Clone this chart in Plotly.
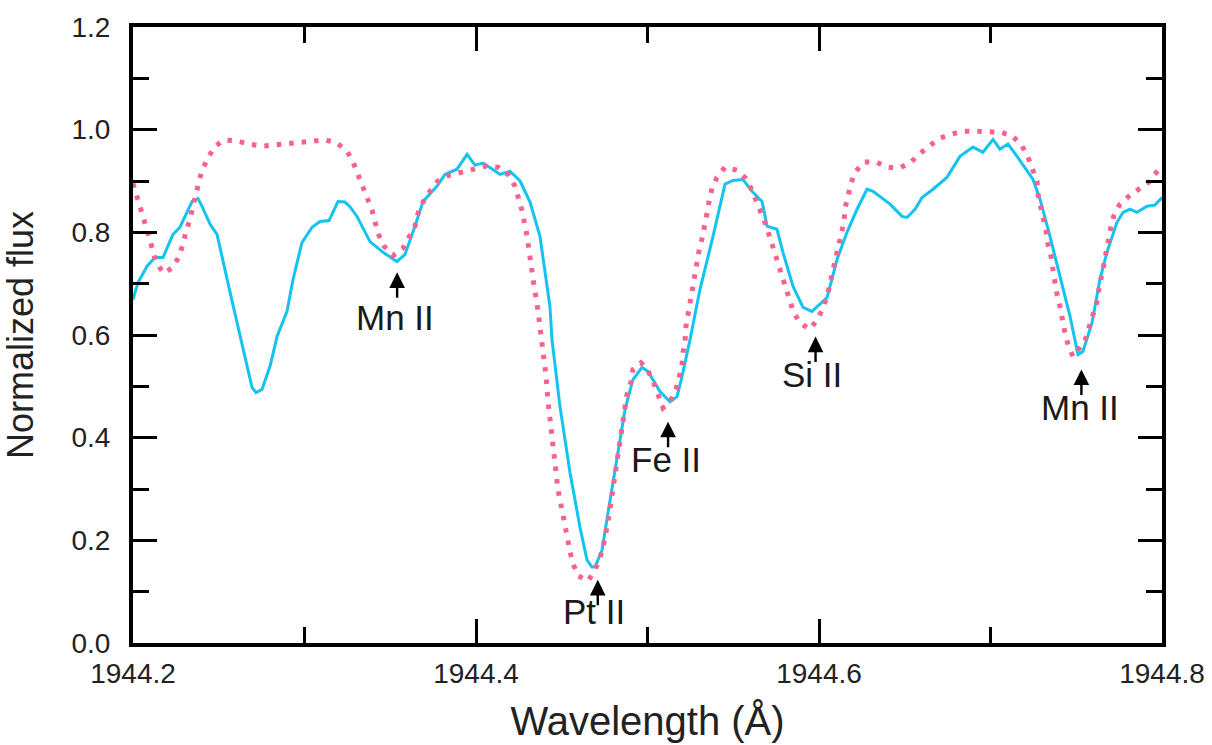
import plotly.graph_objects as go

# Observed spectrum (cyan solid line)
obs_wavelength = [
    1944.2000, 1944.2029, 1944.2082, 1944.2128, 1944.2175, 1944.2233, 1944.2274, 1944.2344,
    1944.2379, 1944.2402, 1944.2449, 1944.2490, 1944.2566, 1944.2641, 1944.2694, 1944.2717,
    1944.2752, 1944.2799, 1944.2840, 1944.2898, 1944.2933, 1944.2985, 1944.3044, 1944.3090,
    1944.3143, 1944.3195, 1944.3236, 1944.3265, 1944.3306, 1944.3382, 1944.3458, 1944.3539,
    1944.3586, 1944.3644, 1944.3691, 1944.3773, 1944.3819, 1944.3889, 1944.3948, 1944.3994,
    1944.4041, 1944.4140, 1944.4198, 1944.4257, 1944.4315, 1944.4373, 1944.4431, 1944.4443,
    1944.4490, 1944.4548, 1944.4606, 1944.4647, 1944.4676, 1944.4694, 1944.4735, 1944.4770,
    1944.4822, 1944.4869, 1944.4915, 1944.4968, 1944.5003, 1944.5073, 1944.5131, 1944.5172,
    1944.5201, 1944.5248, 1944.5306, 1944.5382, 1944.5452, 1944.5499, 1944.5557, 1944.5609,
    1944.5668, 1944.5697, 1944.5755, 1944.5790, 1944.5848, 1944.5907, 1944.5959, 1944.6006,
    1944.6047, 1944.6105, 1944.6163, 1944.6222, 1944.6280, 1944.6315, 1944.6414, 1944.6484,
    1944.6513, 1944.6560, 1944.6601, 1944.6665, 1944.6746, 1944.6822, 1944.6898, 1944.6956,
    1944.7015, 1944.7055, 1944.7102, 1944.7155, 1944.7248, 1944.7289, 1944.7347, 1944.7405,
    1944.7464, 1944.7510, 1944.7539, 1944.7592, 1944.7638, 1944.7679, 1944.7738, 1944.7773,
    1944.7813, 1944.7854, 1944.7913, 1944.7959, 1944.8000,
]
obs_flux = [
    0.669, 0.702, 0.734, 0.751, 0.751, 0.796, 0.810, 0.860,
    0.866, 0.851, 0.816, 0.796, 0.683, 0.578, 0.498, 0.488,
    0.494, 0.539, 0.597, 0.646, 0.708, 0.780, 0.810, 0.821,
    0.823, 0.860, 0.859, 0.850, 0.831, 0.782, 0.761, 0.743,
    0.757, 0.812, 0.860, 0.890, 0.913, 0.923, 0.952, 0.931,
    0.935, 0.913, 0.919, 0.900, 0.859, 0.792, 0.656, 0.591,
    0.460, 0.332, 0.226, 0.162, 0.148, 0.148, 0.181, 0.254,
    0.363, 0.455, 0.513, 0.537, 0.529, 0.490, 0.470, 0.480,
    0.519, 0.591, 0.689, 0.792, 0.894, 0.901, 0.903, 0.880,
    0.860, 0.812, 0.806, 0.761, 0.695, 0.654, 0.646, 0.660,
    0.673, 0.747, 0.800, 0.845, 0.884, 0.880, 0.855, 0.831,
    0.829, 0.845, 0.868, 0.884, 0.907, 0.948, 0.966, 0.956,
    0.981, 0.962, 0.972, 0.948, 0.903, 0.864, 0.792, 0.714,
    0.636, 0.562, 0.568, 0.624, 0.708, 0.761, 0.820, 0.839,
    0.845, 0.839, 0.851, 0.853, 0.868,
]

# Synthetic (model) spectrum (pink dotted line)
model_wavelength = [
    1944.2000, 1944.2012, 1944.2035, 1944.2058, 1944.2082, 1944.2099, 1944.2117, 1944.2140,
    1944.2181, 1944.2233, 1944.2268, 1944.2292, 1944.2309, 1944.2332, 1944.2350, 1944.2367,
    1944.2385, 1944.2402, 1944.2437, 1944.2472, 1944.2531, 1944.2606, 1944.2676, 1944.2752,
    1944.2822, 1944.2898, 1944.2968, 1944.3044, 1944.3120, 1944.3190, 1944.3248, 1944.3283,
    1944.3312, 1944.3341, 1944.3364, 1944.3394, 1944.3411, 1944.3434, 1944.3464, 1944.3516,
    1944.3574, 1944.3609, 1944.3644, 1944.3662, 1944.3691, 1944.3732, 1944.3778, 1944.3843,
    1944.3918, 1944.3988, 1944.4058, 1944.4128, 1944.4192, 1944.4227, 1944.4251, 1944.4268,
    1944.4297, 1944.4321, 1944.4338, 1944.4362, 1944.4391, 1944.4408, 1944.4420, 1944.4437,
    1944.4461, 1944.4478, 1944.4507, 1944.4531, 1944.4548, 1944.4566, 1944.4595, 1944.4653,
    1944.4694, 1944.4723, 1944.4741, 1944.4770, 1944.4793, 1944.4816, 1944.4834, 1944.4857,
    1944.4869, 1944.4880, 1944.4904, 1944.4915, 1944.4962, 1944.4997, 1944.5038, 1944.5090,
    1944.5131, 1944.5166, 1944.5184, 1944.5201, 1944.5207, 1944.5219, 1944.5224, 1944.5236,
    1944.5254, 1944.5265, 1944.5277, 1944.5289, 1944.5300, 1944.5318, 1944.5329, 1944.5347,
    1944.5359, 1944.5376, 1944.5405, 1944.5452, 1944.5522, 1944.5574, 1944.5609, 1944.5638,
    1944.5662, 1944.5691, 1944.5714, 1944.5738, 1944.5761, 1944.5784, 1944.5802, 1944.5825,
    1944.5848, 1944.5883, 1944.5942, 1944.5988, 1944.6023, 1944.6047, 1944.6064, 1944.6082,
    1944.6099, 1944.6117, 1944.6134, 1944.6146, 1944.6152, 1944.6169, 1944.6187, 1944.6210,
    1944.6262, 1944.6332, 1944.6397, 1944.6466, 1944.6531, 1944.6583, 1944.6641, 1944.6700,
    1944.6770, 1944.6840, 1944.6915, 1944.6985, 1944.7061, 1944.7131, 1944.7184, 1944.7219,
    1944.7248, 1944.7271, 1944.7277, 1944.7294, 1944.7306, 1944.7324, 1944.7335, 1944.7353,
    1944.7364, 1944.7376, 1944.7388, 1944.7405, 1944.7417, 1944.7434, 1944.7452, 1944.7481,
    1944.7551, 1944.7574, 1944.7598, 1944.7621, 1944.7633, 1944.7650, 1944.7662, 1944.7674,
    1944.7685, 1944.7703, 1944.7720, 1944.7755, 1944.7813, 1944.7878, 1944.7924, 1944.7977,
    1944.8000,
]
model_flux = [
    0.895, 0.882, 0.858, 0.833, 0.810, 0.786, 0.761, 0.738,
    0.720, 0.732, 0.753, 0.777, 0.802, 0.825, 0.851, 0.874,
    0.898, 0.921, 0.944, 0.966, 0.980, 0.978, 0.972, 0.968,
    0.970, 0.972, 0.976, 0.978, 0.980, 0.974, 0.958, 0.937,
    0.913, 0.890, 0.866, 0.843, 0.820, 0.794, 0.773, 0.755,
    0.769, 0.790, 0.812, 0.837, 0.859, 0.880, 0.900, 0.911,
    0.917, 0.921, 0.929, 0.927, 0.911, 0.890, 0.866, 0.843,
    0.794, 0.745, 0.697, 0.646, 0.572, 0.521, 0.470, 0.423,
    0.349, 0.299, 0.250, 0.201, 0.178, 0.154, 0.131, 0.121,
    0.142, 0.166, 0.187, 0.236, 0.287, 0.338, 0.386, 0.435,
    0.460, 0.484, 0.509, 0.533, 0.546, 0.535, 0.505, 0.458,
    0.470, 0.494, 0.517, 0.542, 0.566, 0.587, 0.616, 0.640,
    0.665, 0.689, 0.714, 0.739, 0.763, 0.788, 0.812, 0.837,
    0.860, 0.886, 0.907, 0.927, 0.921, 0.905, 0.882, 0.859,
    0.835, 0.814, 0.790, 0.765, 0.741, 0.718, 0.695, 0.671,
    0.648, 0.626, 0.611, 0.628, 0.652, 0.675, 0.700, 0.724,
    0.749, 0.773, 0.798, 0.821, 0.847, 0.870, 0.896, 0.917,
    0.937, 0.937, 0.927, 0.925, 0.935, 0.952, 0.968, 0.983,
    0.991, 0.997, 0.997, 0.997, 0.995, 0.987, 0.968, 0.946,
    0.923, 0.900, 0.874, 0.851, 0.825, 0.802, 0.777, 0.753,
    0.728, 0.702, 0.679, 0.656, 0.630, 0.605, 0.581, 0.558,
    0.589, 0.615, 0.640, 0.665, 0.691, 0.714, 0.739, 0.761,
    0.786, 0.812, 0.833, 0.855, 0.872, 0.886, 0.898, 0.921,
    0.927,
]

# Line identifications
line_labels = ["Mn II", "Pt II", "Fe II", "Si II", "Mn II"]
line_wavelength = [1944.354, 1944.471, 1944.512, 1944.598, 1944.753]
arrow_tip_flux = [0.722, 0.123, 0.431, 0.597, 0.533]
label_flux = [0.634, 0.062, 0.357, 0.523, 0.459]
label_wavelength = [1944.353, 1944.469, 1944.511, 1944.596, 1944.752]

x_tick_vals = [1944.2, 1944.4, 1944.6, 1944.8]
x_tick_text = ["1944.2", "1944.4", "1944.6", "1944.8"]
y_tick_vals = [0.0, 0.2, 0.4, 0.6, 0.8, 1.0, 1.2]
y_tick_text = ["0.0", "0.2", "0.4", "0.6", "0.8", "1.0", "1.2"]

FONT = "Liberation Sans, Arial, sans-serif"
CYAN = "#14C3F0"
PINK = "#F8628E"

fig = go.Figure()
fig.add_trace(go.Scatter(
    x=obs_wavelength, y=obs_flux, mode="lines",
    line=dict(color=CYAN, width=3), showlegend=False, hoverinfo="skip"))
fig.add_trace(go.Scatter(
    x=model_wavelength, y=model_flux, mode="lines",
    line=dict(color=PINK, width=5, dash="4.5px,8px"),
    showlegend=False, hoverinfo="skip"))

for lab, lw, tip, lf, lx in zip(line_labels, line_wavelength, arrow_tip_flux, label_flux, label_wavelength):
    fig.add_annotation(x=lw, y=tip, ax=0, ay=27, xref="x", yref="y",
                       showarrow=True, arrowhead=2, arrowsize=1.3, arrowwidth=2.4,
                       arrowcolor="black", text="")
    fig.add_annotation(x=lx, y=lf, xref="x", yref="y", text=lab, showarrow=False,
                       font=dict(family=FONT, size=35, color="#1a1a1a"),
                       xanchor="center", yanchor="middle")

axis_common = dict(
    showgrid=False, zeroline=False, showline=True, linecolor="black", linewidth=4,
    ticks="inside", tickwidth=3, tickcolor="black", ticklen=24, mirror="allticks",
    tickfont=dict(family=FONT, size=28, color="#222222"), automargin=False,
)
fig.update_xaxes(
    range=[1944.2, 1944.8], tickvals=x_tick_vals, ticktext=x_tick_text,
    minor=dict(dtick=0.1, tick0=1944.2, ticklen=16, tickwidth=3, tickcolor="black", ticks="inside"),
    title=dict(text="Wavelength (Å)", font=dict(family=FONT, size=40, color="#222222"), standoff=20),
    ticklabelstandoff=2,
    **axis_common)
fig.update_yaxes(
    range=[0, 1.2], tickvals=y_tick_vals, ticktext=y_tick_text,
    minor=dict(dtick=0.1, tick0=0, ticklen=16, tickwidth=3, tickcolor="black", ticks="inside"),
    title=dict(text="Normalized flux", font=dict(family=FONT, size=36, color="#222222"), standoff=34),
    ticklabelstandoff=13,
    **axis_common)

fig.update_layout(
    width=1212, height=745,
    margin=dict(l=133, r=50, t=27, b=102),
    plot_bgcolor="white", paper_bgcolor="white",
)

fig.write_html("out.html", config={"displayModeBar": False},
               post_script="document.body.style.margin='0';document.body.style.overflow='hidden';")
